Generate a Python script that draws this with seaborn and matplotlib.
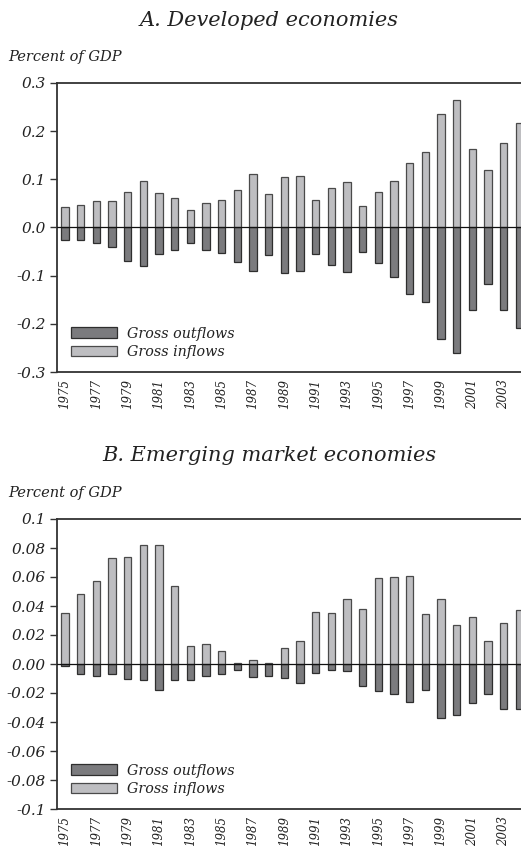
import numpy as np
import pandas as pd
import seaborn as sns
import matplotlib.pyplot as plt

# Years on the x axis
years = list(range(1975, 2005))

# Panel A: developed economies (percent of GDP)
dev_inflows = [0.043, 0.047, 0.054, 0.055, 0.074, 0.096, 0.072, 0.062, 0.037, 0.051,
               0.058, 0.077, 0.112, 0.070, 0.105, 0.106, 0.058, 0.081, 0.094, 0.045,
               0.074, 0.097, 0.134, 0.157, 0.236, 0.264, 0.164, 0.120, 0.176, 0.217]
dev_outflows = [-0.026, -0.026, -0.032, -0.041, -0.070, -0.080, -0.054, -0.046, -0.032, -0.047,
                -0.052, -0.071, -0.090, -0.057, -0.094, -0.090, -0.056, -0.078, -0.093, -0.050,
                -0.074, -0.103, -0.139, -0.155, -0.232, -0.261, -0.172, -0.117, -0.172, -0.208]

# Panel B: emerging market economies (percent of GDP)
em_inflows = [0.0355, 0.048, 0.057, 0.073, 0.0735, 0.082, 0.082, 0.054, 0.0127, 0.0136,
              0.0088, 0.001, 0.003, 0.0007, 0.011, 0.016, 0.036, 0.0355, 0.0445, 0.038,
              0.059, 0.060, 0.061, 0.0345, 0.0445, 0.0267, 0.0325, 0.016, 0.028, 0.037]
em_outflows = [-0.0014, -0.007, -0.0085, -0.007, -0.010, -0.011, -0.018, -0.011, -0.0108, -0.008,
               -0.007, -0.004, -0.0088, -0.008, -0.0095, -0.013, -0.0062, -0.0039, -0.0046, -0.0154,
               -0.0187, -0.0205, -0.026, -0.018, -0.037, -0.035, -0.027, -0.021, -0.031, -0.031]

titles = ["A. Developed economies", "B. Emerging market economies"]
yticks_a = [0.3, 0.2, 0.1, 0.0, -0.1, -0.2, -0.3]
yticklabels_a = ["0.3", "0.2", "0.1", "0.0", "-0.1", "-0.2", "-0.3"]
yticks_b = [0.1, 0.08, 0.06, 0.04, 0.02, 0.0, -0.02, -0.04, -0.06, -0.08, -0.1]
yticklabels_b = ["0.1", "0.08", "0.06", "0.04", "0.02", "0.00", "-0.02", "-0.04",
                 "-0.06", "-0.08", "-0.1"]

sns.set_style("white")
plt.rcParams['font.family'] = ['DejaVu Serif']
plt.rcParams['font.style'] = 'italic'
plt.rcParams['axes.unicode_minus'] = False

dark = "#7b7b7e"
light = "#bebec1"
edge = "#2e2e2e"
txt = "#222222"

fig = plt.figure(figsize=(5.21, 8.46), dpi=100)
W, H = 521, 846


def make_axes(top_px, bottom_px):
    return fig.add_axes([57 / W, 1 - bottom_px / H, 1 - 57 / W, (bottom_px - top_px) / H])


def panel(ax, inflows, outflows, ylim, yticks, yticklabels):
    df = pd.DataFrame({"year": [str(y) for y in years], "inflows": inflows, "outflows": outflows})
    sns.barplot(data=df, x="year", y="outflows", color=dark, edgecolor=edge, linewidth=0.9,
                width=0.46, saturation=1, label="Gross outflows", ax=ax)
    sns.barplot(data=df, x="year", y="inflows", color=light, edgecolor="#4a4a4a", linewidth=0.9,
                width=0.46, saturation=1, label="Gross inflows", ax=ax)
    ax.axhline(0, color="#111111", linewidth=0.9, zorder=5)
    ax.set_xlim(-0.51, 29.1)
    ax.set_ylim(*ylim)
    ax.set_yticks(yticks)
    ax.set_yticklabels(yticklabels, fontsize=11, color=txt)
    ax.set_xticks(range(0, 30, 2))
    ax.set_xticklabels([str(y) for y in years[::2]], rotation=90, fontsize=8.5, color=txt)
    ax.tick_params(axis="x", length=0, pad=5)
    ax.tick_params(axis="y", left=True, length=5, width=1, color="#333333", pad=3)
    ax.set_xlabel("")
    ax.set_ylabel("")
    for s in ["left", "top", "bottom"]:
        ax.spines[s].set_color("#333333")
        ax.spines[s].set_linewidth(1.3)
    ax.spines["right"].set_visible(False)
    leg = ax.legend(loc="lower left", bbox_to_anchor=(0.03, 0.045), frameon=False,
                    borderaxespad=0, borderpad=0,
                    fontsize=10.3, handlelength=3.2, handleheight=0.75, labelspacing=0.3,
                    handletextpad=0.7)
    for t in leg.get_texts():
        t.set_color(txt)


ax_a = make_axes(83, 372)
panel(ax_a, dev_inflows, dev_outflows, (-0.3, 0.3), yticks_a, yticklabels_a)
ax_b = make_axes(519, 809)
panel(ax_b, em_inflows, em_outflows, (-0.1, 0.1), yticks_b, yticklabels_b)

fig.text(269 / W, 1 - 20 / H, titles[0], ha="center", va="center", fontsize=15, color=txt)
fig.text(8 / W, 1 - 57 / H, "Percent of GDP", ha="left", va="center", fontsize=10.5, color=txt)
fig.text(269 / W, 1 - 455 / H, titles[1], ha="center", va="center", fontsize=15, color=txt)
fig.text(8 / W, 1 - 493 / H, "Percent of GDP", ha="left", va="center", fontsize=10.5, color=txt)

fig.savefig("out.png", dpi=100)
